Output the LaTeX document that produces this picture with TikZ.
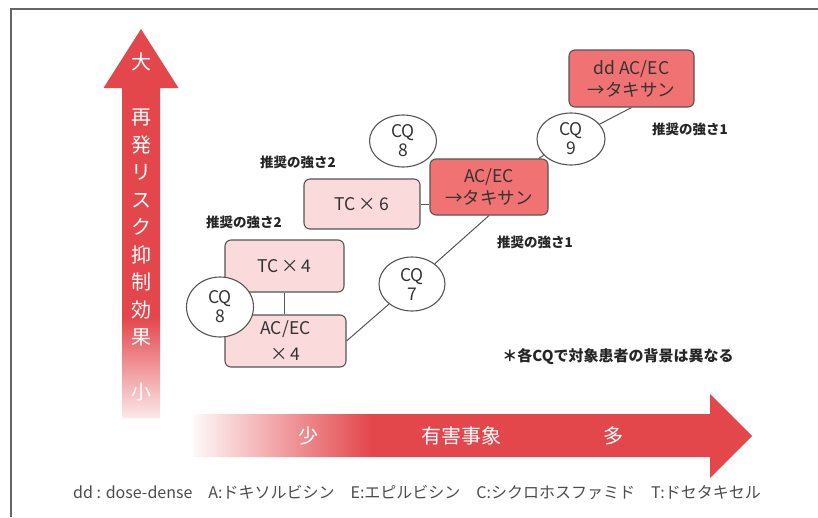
\documentclass[tikz,border=0pt]{standalone}
\usepackage{fontspec}
\setmainfont{Noto Sans CJK JP}
\usetikzlibrary{shapes.geometric}
\definecolor{ared}{HTML}{E3464B}
\definecolor{boxred}{HTML}{F07272}
\definecolor{boxpink}{HTML}{FADADB}
\definecolor{edge}{HTML}{555555}
\definecolor{txt}{HTML}{333333}
\pgfdeclareverticalshading{vfade}{100bp}{color(0bp)=(ared!12); color(25bp)=(ared!12); color(38bp)=(ared); color(100bp)=(ared)}
\pgfdeclarehorizontalshading{hfade}{100bp}{color(0bp)=(ared!4); color(25bp)=(ared!4); color(41bp)=(ared); color(100bp)=(ared)}
\begin{document}
\begin{tikzpicture}[x=1pt,y=-1pt,
  box/.style={draw=edge, line width=1.1pt, rounded corners=6pt, inner sep=0pt, text=txt, font=\fontsize{17.5}{22}\selectfont, align=center},
  cq/.style={ellipse, draw=edge, fill=white, line width=1.1pt, inner sep=0pt, text=txt, font=\fontsize{17.5}{19}\selectfont, align=center},
  conn/.style={draw=edge, line width=1pt},
  rec/.style={font=\bfseries\fontsize{13.5}{16}\selectfont, text=black!85},
  ax/.style={text=white, font=\fontsize{20}{20}\selectfont}]
\useasboundingbox (0,0) rectangle (818,517);
% frame
\draw[black!60, line width=2pt] (818,9) -- (11,9) -- (11,517);
% vertical arrow
\shade[shading=vfade] (141,29) -- (178.5,88) -- (160,88) -- (160,418) -- (122,418) -- (122,88) -- (103.5,88) -- cycle;
% horizontal arrow
\shade[shading=hfade] (193,414) -- (710,414) -- (710,394) -- (752,436) -- (710,478) -- (710,457) -- (193,457) -- cycle;
% axis texts
\node[ax] (big) at (141,62) {大};
\node[ax, align=center, font=\fontsize{20}{27.5}\selectfont] (axv) at (141,228) {再\\発\\リ\\ス\\ク\\抑\\制\\効\\果};
\node[ax] (small) at (141,392) {小};
\node[ax] (few) at (308,436) {少};
\node[ax] (ae) at (461,436) {有害事象};
\node[ax] (many) at (613,436) {多};
% boxes
\node[box, fill=boxred, minimum width=125, minimum height=57] (dd) at (631.5,78.5) {dd AC/EC\\→タキサン};
\node[box, fill=boxred, minimum width=118, minimum height=56] (mid) at (489,187) {AC/EC\\→タキサン};
\node[box, fill=boxpink, minimum width=116, minimum height=50] (tc6) at (362,204) {TC\,×\,6};
\node[box, fill=boxpink, minimum width=119, minimum height=52] (tc4) at (284.5,266) {TC\,×\,4};
\node[box, fill=boxpink, minimum width=121, minimum height=52, font=\fontsize{17.5}{26}\selectfont] (acec4) at (285.5,341) {AC/EC\\×\,4};
% connectors
\draw[conn] (dd.south) -- (571,139);
\draw[conn] (tc6.east) -- (tc6.east -| mid.west);
\draw[conn] (tc4.south) -- (tc4.south |- acec4.north);
% ellipses
\node[cq, minimum width=68, minimum height=52] (cq9) at (571,139) {CQ\\9};
\node[cq, minimum width=67, minimum height=52] (cq8a) at (403,141) {CQ\\8};
\node[cq, minimum width=66, minimum height=54] (cq7) at (412,284) {CQ\\7};
\node[cq, minimum width=67, minimum height=60] (cq8b) at (220,307) {CQ\\8};
\draw[conn] ([xshift=-10pt]mid.north east) -- (cq9);
\draw[conn] (mid.south) -- (cq7);
\draw[conn] (cq7) -- (acec4.east);
% labels
\node[rec] (r1a) at (690,129) {推奨の強さ1};
\node[rec] (r2a) at (298,162) {推奨の強さ2};
\node[rec] (r1b) at (535,242) {推奨の強さ1};
\node[rec] (r2b) at (244,222) {推奨の強さ2};
\node[rec, font=\bfseries\fontsize{15}{16}\selectfont] (note) at (618,357) {＊各CQで対象患者の背景は異なる};
\node[text=black!70, font=\fontsize{16}{18}\selectfont] (foot) at (417,493) {dd : dose-dense\quad A:ドキソルビシン\quad E:エピルビシン\quad C:シクロホスファミド\quad T:ドセタキセル};
\end{tikzpicture}
\end{document}
